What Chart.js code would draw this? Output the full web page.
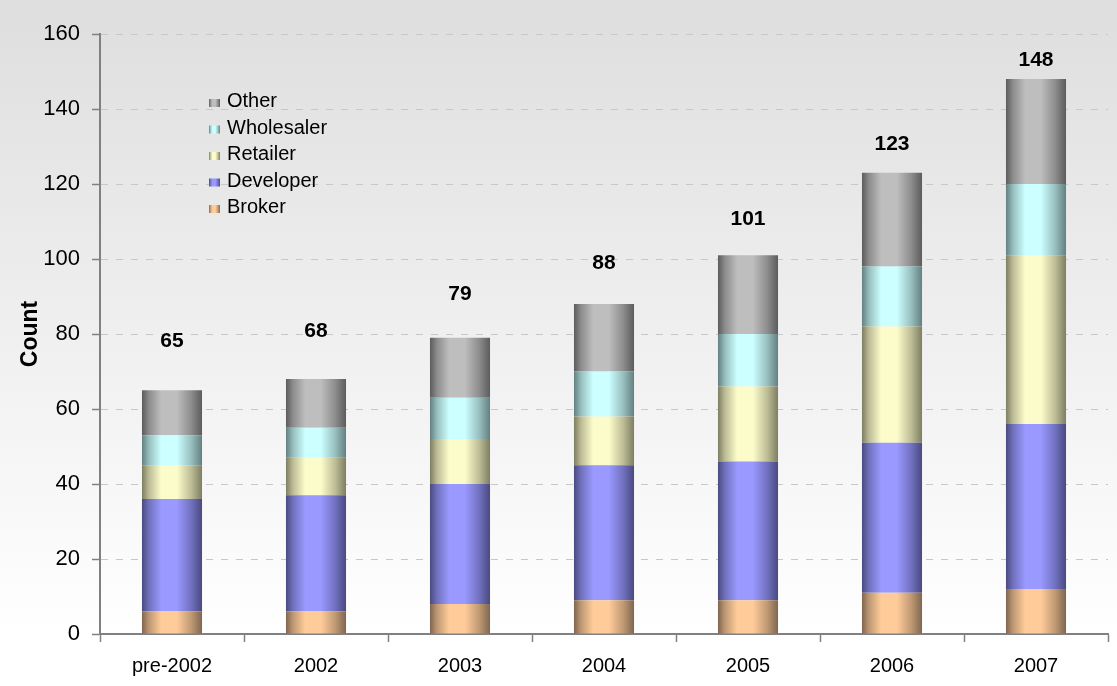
<!DOCTYPE html>
<html>
<head>
<meta charset="utf-8">
<style>
    html, body { margin: 0; padding: 0; background: #fff; }
</style>
<script src="https://cdn.jsdelivr.net/npm/chart.js"></script>
</head>
<body>
<canvas id="myChart" width="1117" height="686"></canvas>
<script>
    // data
    const years      = ['pre-2002', '2002', '2003', '2004', '2005', '2006', '2007'];
    const broker     = [6, 6, 8, 9, 9, 11, 12];
    const developer  = [30, 31, 32, 36, 37, 40, 44];
    const retailer   = [9, 10, 12, 13, 20, 31, 45];
    const wholesaler = [8, 8, 11, 12, 14, 16, 19];
    const other      = [12, 13, 16, 18, 21, 25, 28];
    const totals     = [65, 68, 79, 88, 101, 123, 148];
    const yTicks     = [0, 20, 40, 60, 80, 100, 120, 140, 160];

    const BAR_PCT = 0.417;

    function mix(a, b) {
        const pa = parseInt(a.slice(1), 16), pb = parseInt(b.slice(1), 16);
        const r = ((pa >> 16) + (pb >> 16)) >> 1;
        const g = (((pa >> 8) & 255) + ((pb >> 8) & 255)) >> 1;
        const bl = ((pa & 255) + (pb & 255)) >> 1;
        return 'rgb(' + r + ',' + g + ',' + bl + ')';
    }

    function makeGrad(ctx, x0, x1, light, dark) {
        const g = ctx.createLinearGradient(x0, 0, x1, 0);
        const mid = mix(light, dark);
        g.addColorStop(0, dark);
        g.addColorStop(0.12, mid);
        g.addColorStop(0.32, light);
        g.addColorStop(0.58, light);
        g.addColorStop(0.82, mid);
        g.addColorStop(1, dark);
        return g;
    }

    // bars get a dark-light-dark fill, like the old excel look
    function barFill(light, dark) {
        return function (c) {
            const chart = c.chart;
            const xs = chart.scales.x;
            if (!xs || c.dataIndex === undefined) return light;
            const cx = xs.getPixelForValue(c.dataIndex);
            const half = xs.width / years.length * BAR_PCT / 2;
            if (!isFinite(cx) || !isFinite(half) || half <= 0) return light;
            return makeGrad(chart.ctx, cx - half, cx + half, light, dark);
        };
    }

    const series = [
        { label: 'Broker',     data: broker,     light: '#ffcc99', dark: '#806650' },
        { label: 'Developer',  data: developer,  light: '#9999ff', dark: '#4a4a80' },
        { label: 'Retailer',   data: retailer,   light: '#fcfccb', dark: '#7e7e62' },
        { label: 'Wholesaler', data: wholesaler, light: '#ccffff', dark: '#648080' },
        { label: 'Other',      data: other,      light: '#bebebe', dark: '#5c5c5c' }
    ];

    const bgPlugin = {
        id: 'bg',
        beforeDraw(chart) {
            const ctx = chart.ctx;
            const g = ctx.createLinearGradient(0, 0, 0, chart.height);
            g.addColorStop(0, '#dedede');
            g.addColorStop(0.93, '#ffffff');
            g.addColorStop(1, '#ffffff');
            ctx.save();
            ctx.fillStyle = g;
            ctx.fillRect(0, 0, chart.width, chart.height);
            ctx.restore();
        }
    };

    const totalsPlugin = {
        id: 'totals',
        afterDatasetsDraw(chart) {
            const ctx = chart.ctx, xs = chart.scales.x, ys = chart.scales.y;
            ctx.save();
            ctx.font = "bold 21px 'Liberation Sans', Arial, sans-serif";
            ctx.fillStyle = '#000';
            ctx.textAlign = 'center';
            ctx.textBaseline = 'middle';
            totals.forEach((t, i) => {
                ctx.fillText(String(t), xs.getPixelForValue(i), ys.getPixelForValue(t * 0.905 + 19.2));
            });
            ctx.restore();
        }
    };

    // legend sits inside the plot, top-left, reversed order
    const legendPlugin = {
        id: 'insideLegend',
        afterDraw(chart) {
            const ctx = chart.ctx;
            ctx.save();
            ctx.font = "20px 'Liberation Sans', Arial, sans-serif";
            ctx.textBaseline = 'alphabetic';
            const list = series.slice().reverse();
            list.forEach((s, k) => {
                const base = 107 + k * 26.5;
                ctx.fillStyle = makeGrad(ctx, 209, 220, s.light, s.dark);
                ctx.fillRect(209, base - 8, 11, 8);
                ctx.fillStyle = '#000';
                ctx.fillText(s.label, 227, base);
            });
            ctx.restore();
        }
    };

    Chart.defaults.font.family = "'Liberation Sans', Arial, sans-serif";

    const chart = new Chart(document.getElementById('myChart'), {
        type: 'bar',
        data: {
            labels: years,
            datasets: series.map(s => ({
                label: s.label,
                data: s.data,
                backgroundColor: barFill(s.light, s.dark),
                borderWidth: 0,
                categoryPercentage: 1,
                barPercentage: BAR_PCT
            }))
        },
        options: {
            responsive: false,
            animation: false,
            layout: { padding: { left: 0, right: 9, top: 34, bottom: 0 } },
            plugins: {
                legend: { display: false },
                tooltip: { enabled: false }
            },
            scales: {
                x: {
                    stacked: true,
                    grid: { drawOnChartArea: false, tickLength: 8, tickColor: '#808080', tickWidth: 1.5 },
                    border: { color: '#808080', width: 2 },
                    ticks: { color: '#000', font: { size: 20 }, padding: 12, maxRotation: 0 },
                    afterFit(s) { s.height = 52; }
                },
                y: {
                    stacked: true,
                    min: 0,
                    max: 160,
                    afterBuildTicks(s) { s.ticks = yTicks.map(v => ({ value: v })); },
                    grid: { color: '#c8c8c8', tickColor: '#808080', tickLength: 8, tickWidth: 1.5 },
                    border: { color: '#808080', width: 2, dash: [7, 8] },
                    ticks: { color: '#000', font: { size: 22 }, padding: 12 },
                    title: {
                        display: true,
                        text: 'Count',
                        color: '#000',
                        font: { size: 23, weight: 'bold' },
                        padding: { top: 17, bottom: 0 }
                    },
                    afterFit(s) { s.width = 100; }
                }
            }
        },
        plugins: [bgPlugin, totalsPlugin, legendPlugin]
    });
</script>
</body>
</html>
